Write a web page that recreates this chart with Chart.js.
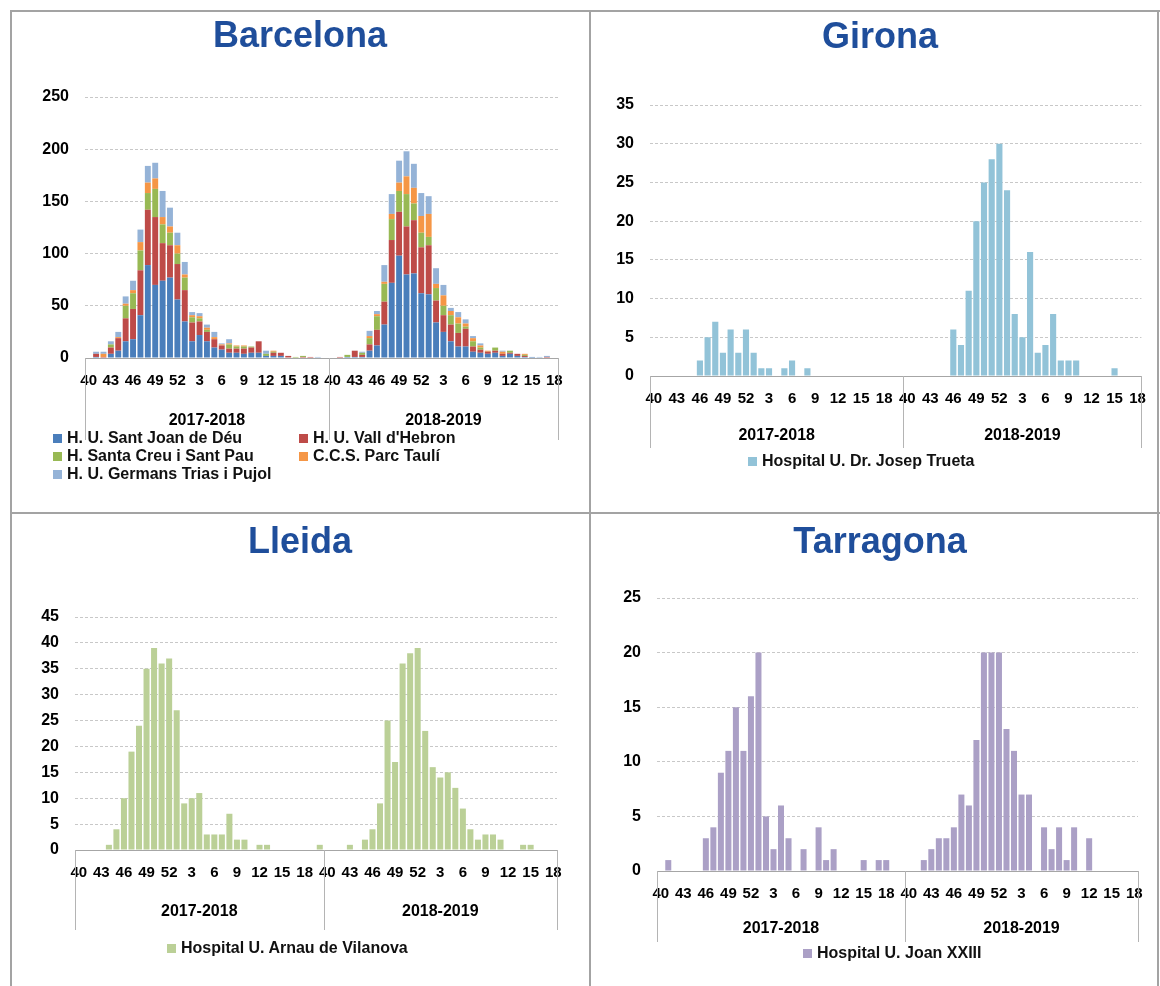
<!DOCTYPE html>
<html lang="ca">
<head>
<meta charset="utf-8">
<title>Casos per setmana i hospital — temporades 2017-2018 i 2018-2019</title>
<script src="https://cdn.jsdelivr.net/npm/chart.js@4.4.1/dist/chart.umd.min.js"></script>
<style>
  body { margin: 0; background: #fff; font-family: 'Liberation Sans', Arial, sans-serif; }
  #full { position: relative; width: 1160px; height: 986px; overflow: hidden; }
  .linia { position: absolute; background: #a3a3a3; }
  canvas { position: absolute; }
  .titol { position: absolute; width: 400px; text-align: center; font-weight: bold; font-size: 36px; line-height: 40px; color: #1F4E9B; }
  .llegenda { position: absolute; display: grid; grid-template-columns: 246px 246px; font-weight: bold; font-size: 16px; line-height: 18px; color: #111; }
  .llegenda.una { grid-template-columns: auto; }
  .llegenda .item { display: flex; align-items: center; white-space: nowrap; }
  .llegenda i { display: inline-block; width: 9px; height: 9px; margin-right: 5px; }
</style>
</head>
<body>
<div id="full">
  <div class="linia" style="left:10px;top:10px;width:1150px;height:2px"></div>
  <div class="linia" style="left:10px;top:10px;width:2px;height:976px"></div>
  <div class="linia" style="left:589px;top:10px;width:2px;height:976px"></div>
  <div class="linia" style="left:1157px;top:10px;width:2px;height:976px"></div>
  <div class="linia" style="left:10px;top:512px;width:1150px;height:2px"></div>

  <canvas id="g-barcelona" width="580" height="503" style="left:10px;top:10px"></canvas>
  <canvas id="g-girona" width="570" height="503" style="left:590px;top:10px"></canvas>
  <canvas id="g-lleida" width="580" height="473" style="left:10px;top:513px"></canvas>
  <canvas id="g-tarragona" width="570" height="473" style="left:590px;top:513px"></canvas>

  <div class="titol" style="left:100px;top:15px">Barcelona</div>
  <div class="titol" style="left:680px;top:16px">Girona</div>
  <div class="titol" style="left:100px;top:521px">Lleida</div>
  <div class="titol" style="left:680px;top:521px">Tarragona</div>

  <div class="llegenda" id="ll-barcelona" style="left:53px;top:429px"></div>
  <div class="llegenda una" id="ll-girona" style="left:748px;top:452px"></div>
  <div class="llegenda una" id="ll-lleida" style="left:167px;top:939px"></div>
  <div class="llegenda una" id="ll-tarragona" style="left:803px;top:944px"></div>
</div>

<script>
// Setmanes epidemiològiques de cada temporada
const setmanesT1 = ['40','41','42','43','44','45','46','47','48','49','50','51','52','1','2','3','4','5','6','7','8','9','10','11','12','13','14','15','16','17','18','19','20'];
const setmanesT2 = ['40','41','42','43','44','45','46','47','48','49','50','51','52','1','2','3','4','5','6','7','8','9','10','11','12','13','14','15','16','17','18'];
const temporades = ['2017-2018', '2018-2019'];

// Barcelona
const santJoanDeuT1   = [0,1,0,4,7,16,18,41,89,70,74,77,56,35,16,22,16,10,8,5,5,4,5,5,2,2,2,0,0,0,0,0,0];
const santJoanDeuT2   = [0,0,1,1,1,7,12,32,72,98,80,81,62,61,34,25,16,11,11,6,5,4,5,2,4,2,1,1,0,0,0];
const vallHebronT1    = [0,3,1,6,12,22,29,43,53,65,36,31,34,30,18,13,9,8,4,4,4,5,5,11,0,3,3,2,0,1,1,0,0];
const vallHebronT2    = [0,1,0,6,2,6,15,22,41,42,46,51,44,47,21,16,16,13,17,5,3,2,2,2,1,2,1,0,0,1,0];
const santPauT1       = [0,0,0,3,0,12,15,19,16,27,18,12,10,12,5,3,2,0,0,4,2,2,1,0,2,1,0,0,1,1,0,0,0];
const santPauT2       = [0,0,2,0,2,6,13,17,20,20,31,16,14,8,12,9,9,9,2,5,2,0,3,0,2,0,1,0,0,0,0];
const parcTauliT1     = [0,0,3,0,1,2,3,8,10,10,7,6,8,3,2,2,2,2,1,1,1,1,0,0,0,1,0,0,0,0,0,0,0];
const parcTauliT2     = [0,0,0,0,0,2,2,2,5,8,17,15,16,22,4,10,4,6,3,3,2,1,0,2,0,0,1,0,0,0,0];
const germansTriasT1  = [0,2,2,3,5,7,9,12,16,15,25,18,12,12,3,3,3,5,1,4,0,0,0,0,3,0,0,0,0,0,0,1,0];
const germansTriasT2  = [0,0,0,0,1,5,3,16,19,21,24,23,22,17,15,10,3,5,4,2,2,0,0,1,0,0,0,0,1,1,0];

// Girona, Lleida, Tarragona
const truetaT1    = [0,0,0,0,0,0,2,5,7,3,6,3,6,3,1,1,0,1,2,0,1,0,0,0,0,0,0,0,0,0,0,0,0];
const truetaT2    = [0,0,0,0,0,0,6,4,11,20,25,28,30,24,8,5,16,3,4,8,2,2,2,0,0,0,0,1,0,0,0];
const arnauT1     = [0,0,0,0,1,4,10,19,24,35,39,36,37,27,9,10,11,3,3,3,7,2,2,0,1,1,0,0,0,0,0,0,1];
const arnauT2     = [0,0,0,1,0,2,4,9,25,17,36,38,39,23,16,14,15,12,8,4,2,3,3,2,0,0,1,1,0,0,0];
const joanXXIIIT1 = [0,1,0,0,0,0,3,4,9,11,15,11,16,20,5,2,6,3,0,2,0,4,1,2,0,0,0,1,0,1,1,0,0];
const joanXXIIIT2 = [0,0,1,2,3,3,4,7,6,12,20,20,20,13,11,7,7,0,4,2,4,1,4,0,3,0,0,0,0,0,0];

const setmanes = setmanesT1.concat(setmanesT2);
const FONT = "'Liberation Sans', Arial, sans-serif";

/** Separadors i noms de temporada sota l'eix X */
const pluginTemporades = {
  id: 'temporades',
  afterDraw(chart, args, opts) {
    const { ctx, chartArea, scales: { x } } = chart;
    const n = setmanesT1.length;
    const tall = (x.getPixelForValue(n - 1) + x.getPixelForValue(n)) / 2;
    const limits = [chartArea.left, tall, chartArea.right];
    ctx.save();
    ctx.strokeStyle = '#b4b4b4';
    ctx.lineWidth = 1;
    limits.forEach(px => {
      const xx = Math.round(px) + 0.5;
      ctx.beginPath(); ctx.moveTo(xx, chartArea.bottom); ctx.lineTo(xx, chartArea.bottom + opts.llarg); ctx.stroke();
    });
    ctx.fillStyle = '#000';
    ctx.font = 'bold 16px ' + FONT;
    ctx.textAlign = 'center';
    ctx.textBaseline = 'middle';
    temporades.forEach((t, i) => ctx.fillText(t, (limits[i] + limits[i + 1]) / 2, chartArea.bottom + opts.textY));
    ctx.restore();
  }
};

function crearGrafic(id, series, cfg) {
  return new Chart(document.getElementById(id), {
    type: 'bar',
    data: {
      labels: setmanes,
      datasets: series.map(s => ({ label: s.nom, data: s.dades, backgroundColor: s.color, borderWidth: 0, barPercentage: 0.8, categoryPercentage: 1 }))
    },
    options: {
      responsive: false, animation: false,
      layout: { padding: cfg.padding },
      plugins: { legend: { display: false }, tooltip: { enabled: false }, temporades: { llarg: cfg.llarg, textY: cfg.textY } },
      scales: {
        x: {
          stacked: true,
          grid: { display: false, drawTicks: false },
          border: { color: '#a6a6a6', width: 1 },
          ticks: {
            autoSkip: false, minRotation: 0, maxRotation: 0, padding: 14, color: '#000',
            font: { family: FONT, size: 15, weight: 'bold' },
            callback: function (v, i) { return i % 3 === 0 ? this.getLabelForValue(v) : ''; }
          },
          afterFit: s => { s.height = 100; }
        },
        y: {
          stacked: true, min: 0, max: cfg.max,
          grid: { color: '#c8c8c8', drawTicks: false },
          border: { display: false, dash: [3, 2] },
          ticks: { stepSize: cfg.pas, padding: 16, color: '#000', font: { family: FONT, size: 16, weight: 'bold' } },
          afterFit: s => { s.width = cfg.ampleEix; }
        }
      }
    },
    plugins: [pluginTemporades]
  });
}

function crearLlegenda(id, series) {
  const div = document.getElementById(id);
  series.forEach(s => {
    const item = document.createElement('span');
    item.className = 'item';
    item.innerHTML = `<i style="background:${s.color}"></i>${s.nom}`;
    div.appendChild(item);
  });
}

const seriesBarcelona = [
  { nom: 'H. U. Sant Joan de Déu',       color: '#4A7EBB', dades: santJoanDeuT1.concat(santJoanDeuT2) },
  { nom: "H. U. Vall d'Hebron",          color: '#BE4B48', dades: vallHebronT1.concat(vallHebronT2) },
  { nom: 'H. Santa Creu i Sant Pau',     color: '#98B954', dades: santPauT1.concat(santPauT2) },
  { nom: 'C.C.S. Parc Taulí',            color: '#F59646', dades: parcTauliT1.concat(parcTauliT2) },
  { nom: 'H. U. Germans Trias i Pujol',  color: '#95B3D7', dades: germansTriasT1.concat(germansTriasT2) }
];
const seriesGirona    = [{ nom: 'Hospital U. Dr. Josep Trueta',  color: '#92C3D8', dades: truetaT1.concat(truetaT2) }];
const seriesLleida    = [{ nom: 'Hospital U. Arnau de Vilanova', color: '#BBD097', dades: arnauT1.concat(arnauT2) }];
const seriesTarragona = [{ nom: 'Hospital U. Joan XXIII',        color: '#ABA0C6', dades: joanXXIIIT1.concat(joanXXIIIT2) }];

crearGrafic('g-barcelona', seriesBarcelona, { padding: { top: 87, right: 32, bottom: 55, left: 0 }, ampleEix: 75, max: 250, pas: 50, llarg: 82, textY: 63 });
crearGrafic('g-girona',    seriesGirona,    { padding: { top: 95, right: 9,  bottom: 37, left: 0 }, ampleEix: 60, max: 35,  pas: 5,  llarg: 72, textY: 60 });
crearGrafic('g-lleida',    seriesLleida,    { padding: { top: 104, right: 33, bottom: 36, left: 0 }, ampleEix: 65, max: 45, pas: 5,  llarg: 80, textY: 62 });
crearGrafic('g-tarragona', seriesTarragona, { padding: { top: 85, right: 22, bottom: 15, left: 0 }, ampleEix: 67, max: 25,  pas: 5,  llarg: 71, textY: 58 });

crearLlegenda('ll-barcelona', seriesBarcelona);
crearLlegenda('ll-girona', seriesGirona);
crearLlegenda('ll-lleida', seriesLleida);
crearLlegenda('ll-tarragona', seriesTarragona);
</script>
</body>
</html>
